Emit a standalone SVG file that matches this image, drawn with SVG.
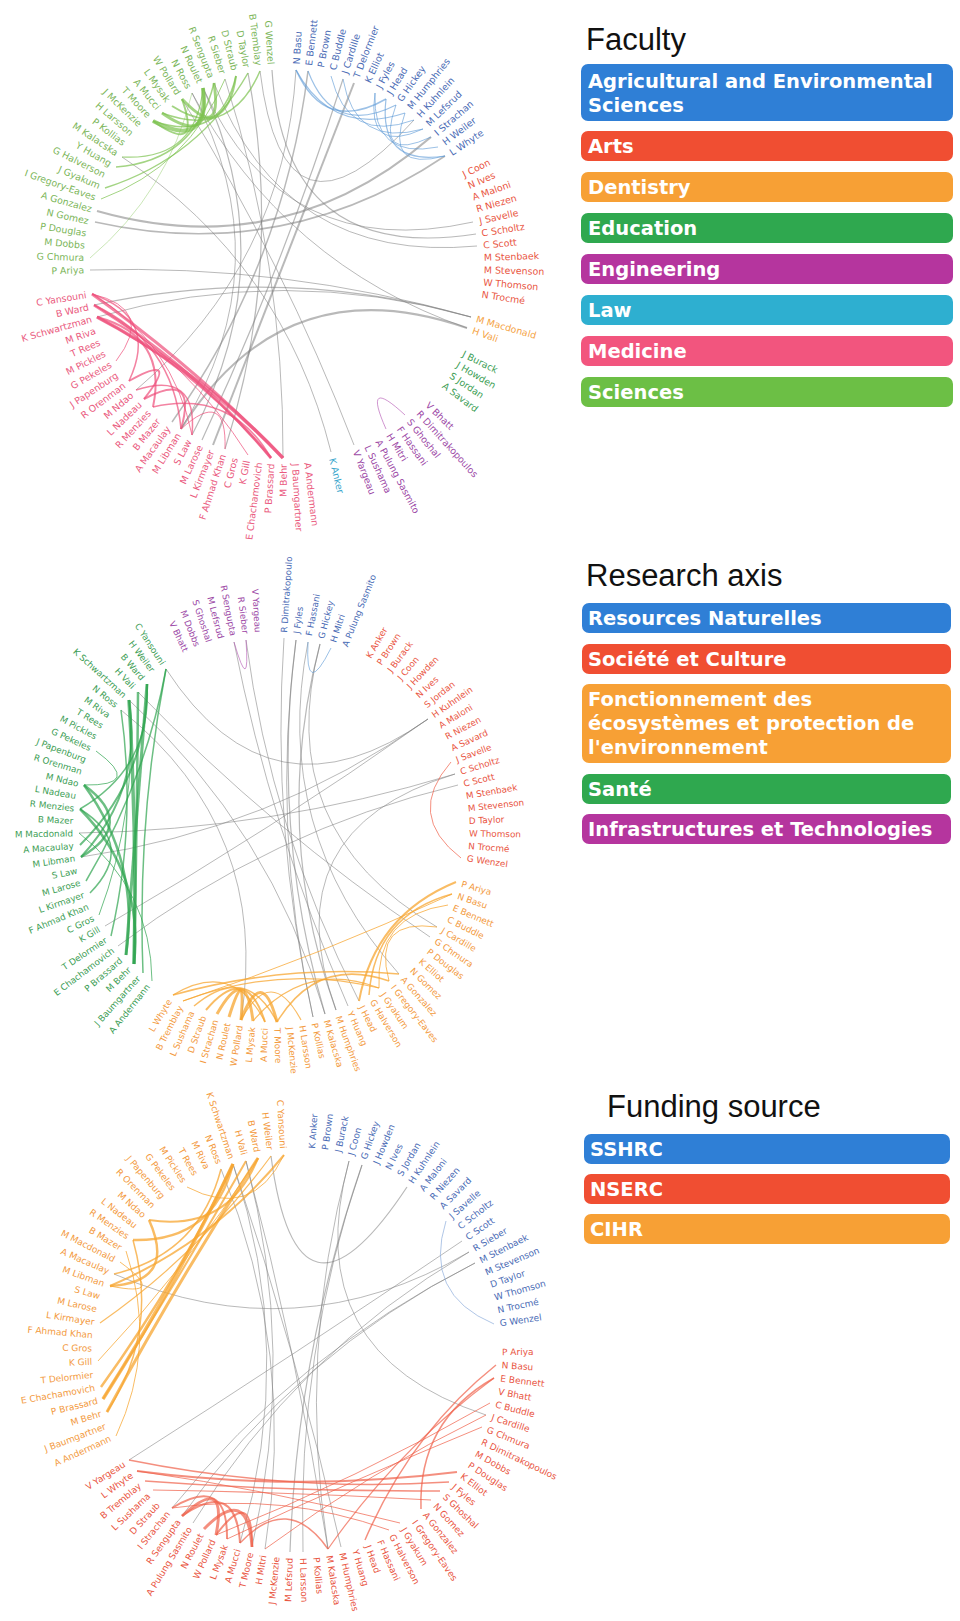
<svg xmlns="http://www.w3.org/2000/svg" width="960" height="1621" viewBox="0 0 960 1621">
<style>
.lb text{font-family:"DejaVu Sans",Verdana,sans-serif;font-size:8.8px;dominant-baseline:central}
#faculty-labels text{font-size:9.4px}
#funding-labels text{font-size:9px}
.l{text-anchor:end}
.ag{fill:#4a6bb5}.ar{fill:#e9553f}.de{fill:#f5a345}.ed{fill:#3d9e55}.en{fill:#9c48a6}.lw{fill:#3aa6cc}.me{fill:#ea5a7e}.sc{fill:#7cb65a}.or{fill:#f39a3e}.gr{fill:#3d9e55}
.ttl{font-family:"Liberation Sans",Arial,sans-serif;font-size:31px;fill:#111}
.lt{font-family:"DejaVu Sans",Verdana,sans-serif;font-weight:bold;font-size:19.5px;fill:#fff}
#connectors path{fill:none}
.gy{stroke:#808080;stroke-opacity:.55}
.kb{stroke:#5a98d6;stroke-opacity:.6}
.ks{stroke:#7cc24e;stroke-opacity:.7}
.km{stroke:#ee4f7a;stroke-opacity:.7}
.kp{stroke:#b050b0;stroke-opacity:.6}
.kg{stroke:#2ea44f;stroke-opacity:.7}
.ko{stroke:#f7a530;stroke-opacity:.75}
.kr{stroke:#f06048;stroke-opacity:.7}
.kl{stroke:#8eaedc;stroke-opacity:.7}
</style>
<rect width="960" height="1621" fill="#fff"/>

<g id="connectors">
<g id="c-faculty">
<g class="gy">
<path d="M97,211 Q284,264 431,137" stroke-width="2.2"/>
<path d="M95,222 Q284,264 445,156" stroke-width="1.6"/>
<path d="M203,88 Q284,264 192,435" stroke-width="1.2"/>
<path d="M192,93 Q284,264 181,429" stroke-width="1"/>
<path d="M182,99 Q284,264 354,445" stroke-width="1"/>
<path d="M354,83 Q284,264 213,445" stroke-width="2"/>
<path d="M343,79 Q284,264 202,440" stroke-width="1.2"/>
<path d="M308,71 Q284,264 172,422" stroke-width="1.5"/>
<path d="M471,317 Q284,264 94,305" stroke-width="1.2"/>
<path d="M471,317 Q284,264 97,317" stroke-width="1"/>
<path d="M467,328 Q284,264 181,429" stroke-width="2"/>
<path d="M467,328 Q284,264 192,93" stroke-width="1"/>
<path d="M473,222 Q284,264 203,88" stroke-width="1"/>
<path d="M477,246 Q284,264 214,83" stroke-width="1"/>
<path d="M272,70 Q284,264 476,234" stroke-width="1.2"/>
<path d="M296,70 Q284,264 136,390" stroke-width="1"/>
<path d="M260,71 Q284,264 414,120" stroke-width="1"/>
<path d="M225,79 Q284,264 283,458" stroke-width="1"/>
<path d="M471,317 Q284,264 90,270" stroke-width="1"/>
<path d="M331,452 Q284,264 122,157" stroke-width="1"/>
<path d="M248,73 Q284,264 225,449" stroke-width="1.2"/>
</g>
<g class="kb">
<path d="M296,70 Q325,134 386,99" stroke-width="1.5"/>
<path d="M308,71 Q333,137 396,105" stroke-width="1.2"/>
<path d="M296,70 Q333,137 405,113" stroke-width="1.2"/>
<path d="M331,76 Q348,144 414,120" stroke-width="1"/>
<path d="M343,79 Q355,148 423,129" stroke-width="1"/>
<path d="M375,93 Q372,160 438,147" stroke-width="1"/>
<path d="M386,99 Q378,166 445,156" stroke-width="1.2"/>
<path d="M396,105 Q375,163 431,137" stroke-width="1"/>
<path d="M405,113 Q384,172 445,156" stroke-width="1"/>
<path d="M375,93 Q366,155 423,129" stroke-width="1"/>
</g>
<g class="ks">
<path d="M153,121 Q209,151 203,88" stroke-width="4"/>
<path d="M182,99 Q223,142 214,83" stroke-width="3"/>
<path d="M172,106 Q227,141 236,76" stroke-width="2"/>
<path d="M162,113 Q231,139 260,71" stroke-width="1.5"/>
<path d="M116,167 Q195,161 214,83" stroke-width="1.5"/>
<path d="M105,188 Q199,158 248,73" stroke-width="1.5"/>
<path d="M153,121 Q220,144 236,76" stroke-width="1.5"/>
<path d="M122,157 Q196,161 203,88" stroke-width="1.2"/>
<path d="M90,258 Q168,192 192,93" stroke-width="1" stroke-opacity=".4"/>
<path d="M101,199 Q189,166 225,79" stroke-width="1"/>
<path d="M153,121 Q202,156 182,99" stroke-width="2"/>
<path d="M162,113 Q212,148 203,88" stroke-width="3"/>
</g>
<g class="km">
<path d="M92,294 Q195,367 283,458" stroke-width="3"/>
<path d="M94,305 Q195,367 271,458" stroke-width="3"/>
<path d="M97,317 Q202,372 283,458" stroke-width="3.5"/>
<path d="M97,317 Q198,370 271,458" stroke-width="2"/>
<path d="M94,305 Q173,342 181,429" stroke-width="1.5"/>
<path d="M92,294 Q159,317 129,381" stroke-width="1.5"/>
<path d="M129,381 Q181,352 144,399" stroke-width="2"/>
<path d="M144,399 Q198,370 181,429" stroke-width="2"/>
<path d="M136,390 Q198,370 192,435" stroke-width="1.5"/>
<path d="M97,317 Q168,336 153,407" stroke-width="2"/>
<path d="M92,294 Q156,309 116,361" stroke-width="1"/>
<path d="M181,429 Q227,387 225,449" stroke-width="1"/>
<path d="M94,305 Q189,362 248,455" stroke-width="1"/>
<path d="M153,407 Q231,389 271,458" stroke-width="1.5"/>
<path d="M92,294 Q173,342 192,435" stroke-width="1"/>
</g>
<path class="kp" d="M405,415 Q362,375 386,429" stroke-width="1"/>
</g>

<g id="c-axis">
<g class="gy">
<path d="M428,719 Q271,830 166,669" stroke-width="1"/>
<path d="M428,719 Q271,830 81,857" stroke-width="1"/>
<path d="M428,719 Q271,830 105,926" stroke-width="1"/>
<path d="M458,785 Q271,830 118,946" stroke-width="1"/>
<path d="M296,640 Q271,830 325,1014" stroke-width="1.2"/>
<path d="M320,644 Q271,830 336,1010" stroke-width="1.2"/>
<path d="M284,638 Q271,830 313,1017" stroke-width="1"/>
<path d="M246,640 Q271,830 359,1001" stroke-width="1"/>
<path d="M234,642 Q271,830 348,1006" stroke-width="1"/>
<path d="M138,692 Q271,830 430,937" stroke-width="1"/>
<path d="M129,700 Q271,830 325,1014" stroke-width="1"/>
<path d="M121,710 Q271,830 241,1020" stroke-width="1"/>
<path d="M79,833 Q271,830 455,774" stroke-width="1"/>
<path d="M455,774 Q271,830 336,1010" stroke-width="1"/>
<path d="M308,642 Q271,830 399,974" stroke-width="1"/>
<path d="M437,927 Q271,830 320,644" stroke-width="1"/>
<path d="M296,640 Q271,830 313,1017" stroke-width="1"/>
</g>
<g class="kg">
<path d="M129,700 Q137,832 134,964" stroke-width="3.5"/>
<path d="M147,684 Q137,820 126,955" stroke-width="3"/>
<path d="M138,692 Q137,828 134,964" stroke-width="2.5"/>
<path d="M166,669 Q137,820 143,973" stroke-width="1.5"/>
<path d="M84,785 Q137,824 81,857" stroke-width="2.5"/>
<path d="M80,809 Q137,845 90,893" stroke-width="1.5"/>
<path d="M84,785 Q140,862 126,955" stroke-width="2.5"/>
<path d="M80,809 Q144,874 134,964" stroke-width="2.5"/>
<path d="M81,857 Q143,790 129,700" stroke-width="2"/>
<path d="M80,845 Q147,779 147,684" stroke-width="2"/>
<path d="M96,751 Q144,786 84,785" stroke-width="1"/>
<path d="M86,881 Q145,782 166,669" stroke-width="1.5"/>
<path d="M121,710 Q137,824 111,936" stroke-width="1.5"/>
<path d="M80,809 Q152,767 147,684" stroke-width="1.5"/>
<path d="M79,833 Q151,890 152,981" stroke-width="1"/>
<path d="M99,915 Q138,811 129,700" stroke-width="1"/>
</g>
<g class="ko">
<path d="M173,995 Q284,964 399,974" stroke-width="1.5"/>
<path d="M183,1001 Q280,964 379,988" stroke-width="1.2"/>
<path d="M241,1020 Q246,962 229,1017" stroke-width="3"/>
<path d="M253,1021 Q246,962 217,1014" stroke-width="3"/>
<path d="M277,1022 Q262,964 241,1020" stroke-width="3"/>
<path d="M265,1022 Q246,962 206,1010" stroke-width="2"/>
<path d="M277,1022 Q246,962 194,1006" stroke-width="1.5"/>
<path d="M301,1020 Q271,964 241,1020" stroke-width="1.2"/>
<path d="M456,882 Q375,915 359,1001" stroke-width="2"/>
<path d="M452,894 Q375,915 369,995" stroke-width="1.5"/>
<path d="M448,905 Q375,915 379,988" stroke-width="1"/>
<path d="M452,894 Q321,955 183,1001" stroke-width="1"/>
<path d="M437,927 Q372,918 389,981" stroke-width="1"/>
<path d="M379,988 Q305,960 253,1021" stroke-width="1.2"/>
<path d="M389,981 Q317,956 277,1022" stroke-width="1.5"/>
<path d="M265,1022 Q233,959 173,995" stroke-width="1.2"/>
</g>
<path class="kr" d="M451,762 Q405,815 461,858" stroke-width="1" stroke-opacity=".45"/>
<path class="kp" d="M234,642 Q250,697 246,640" stroke-width="1"/>
<path class="kb" d="M308,642 Q305,700 331,648" stroke-width="1"/>
</g>

<g id="c-funding">
<g class="gy">
<path d="M362,1165 Q297,1353 290,1552" stroke-width="1.2"/>
<path d="M362,1165 Q297,1353 303,1552" stroke-width="1"/>
<path d="M407,1187 Q297,1353 271,1156" stroke-width="1.2"/>
<path d="M469,1252 Q297,1353 193,1523" stroke-width="1"/>
<path d="M475,1263 Q297,1353 182,1516" stroke-width="1"/>
<path d="M246,1161 Q297,1353 328,1549" stroke-width="1"/>
<path d="M233,1164 Q297,1353 341,1547" stroke-width="1"/>
<path d="M221,1169 Q297,1353 265,1549" stroke-width="1"/>
<path d="M114,1274 Q297,1353 469,1252" stroke-width="1"/>
<path d="M129,1460 Q297,1353 462,1241" stroke-width="1"/>
<path d="M486,1415 Q297,1353 349,1161" stroke-width="1"/>
<path d="M172,1508 Q297,1353 475,1263" stroke-width="1"/>
<path d="M246,1161 Q297,1353 252,1547" stroke-width="1"/>
<path d="M233,1164 Q297,1353 240,1543" stroke-width="1"/>
<path d="M349,1161 Q297,1353 328,1549" stroke-width="1"/>
</g>
<g class="ko">
<path d="M233,1164 Q175,1286 103,1399" stroke-width="3.5"/>
<path d="M258,1158 Q177,1282 107,1412" stroke-width="3"/>
<path d="M246,1161 Q177,1282 103,1399" stroke-width="2"/>
<path d="M149,1220 Q177,1282 110,1286" stroke-width="2.5"/>
<path d="M133,1240 Q213,1242 233,1164" stroke-width="2.5"/>
<path d="M149,1220 Q228,1232 258,1158" stroke-width="2"/>
<path d="M110,1286 Q213,1242 284,1155" stroke-width="2"/>
<path d="M100,1323 Q199,1254 271,1156" stroke-width="1.2"/>
<path d="M101,1387 Q177,1282 233,1164" stroke-width="2.5"/>
<path d="M187,1187 Q252,1221 284,1155" stroke-width="1"/>
<path d="M133,1240 Q159,1332 107,1412" stroke-width="1.5"/>
<path d="M126,1251 Q158,1346 116,1436" stroke-width="1"/>
<path d="M114,1274 Q199,1254 221,1169" stroke-width="1.5"/>
<path d="M120,1262 Q169,1298 110,1286" stroke-width="1"/>
<path d="M98,1361 Q187,1267 258,1158" stroke-width="1"/>
</g>
<g class="kr">
<path d="M129,1460 Q288,1492 449,1482" stroke-width="1.5"/>
<path d="M137,1471 Q297,1492 457,1472" stroke-width="2"/>
<path d="M145,1481 Q292,1492 440,1491" stroke-width="1.5"/>
<path d="M153,1490 Q292,1492 431,1500" stroke-width="1.2"/>
<path d="M216,1535 Q228,1474 182,1516" stroke-width="3"/>
<path d="M252,1547 Q248,1484 204,1529" stroke-width="3"/>
<path d="M240,1543 Q236,1478 182,1516" stroke-width="2"/>
<path d="M227,1539 Q228,1474 172,1508" stroke-width="2"/>
<path d="M252,1547 Q253,1485 216,1535" stroke-width="2"/>
<path d="M496,1365 Q411,1433 365,1540" stroke-width="1.5"/>
<path d="M494,1378 Q418,1421 421,1509" stroke-width="1.5"/>
<path d="M494,1378 Q397,1450 328,1549" stroke-width="1.2"/>
<path d="M490,1403 Q357,1479 216,1535" stroke-width="1"/>
<path d="M486,1415 Q369,1472 265,1549" stroke-width="1"/>
<path d="M482,1427 Q353,1480 227,1539" stroke-width="1"/>
<path d="M389,1530 Q283,1492 172,1508" stroke-width="1"/>
<path d="M400,1523 Q270,1490 137,1471" stroke-width="1"/>
<path d="M328,1549 Q288,1492 240,1543" stroke-width="1.5"/>
</g>
<path class="kl" d="M446,1221 Q423,1294 494,1324" stroke-width="1"/>
</g>
</g>

<g id="faculty-labels" class="lb" transform="translate(284,264)">
<g id="f1" transform="rotate(-86.5)"><text class="ag" x="200">N Basu</text></g>
<g id="f2" transform="rotate(-82.98)"><text class="ag" x="200">E Bennett</text></g>
<g id="f3" transform="rotate(-79.46)"><text class="ag" x="200">P Brown</text></g>
<g id="f4" transform="rotate(-75.94)"><text class="ag" x="200">C Buddle</text></g>
<g id="f5" transform="rotate(-72.42)"><text class="ag" x="200">J Cardille</text></g>
<g id="f6" transform="rotate(-68.9)"><text class="ag" x="200">T Delormier</text></g>
<g id="f7" transform="rotate(-65.38)"><text class="ag" x="200">K Elliot</text></g>
<g id="f8" transform="rotate(-61.86)"><text class="ag" x="200">J Fyles</text></g>
<g id="f9" transform="rotate(-58.34)"><text class="ag" x="200">J Head</text></g>
<g id="f10" transform="rotate(-54.82)"><text class="ag" x="200">G Hickey</text></g>
<g id="f11" transform="rotate(-51.3)"><text class="ag" x="200">M Humphries</text></g>
<g id="f12" transform="rotate(-47.78)"><text class="ag" x="200">H Kuhnlein</text></g>
<g id="f13" transform="rotate(-44.26)"><text class="ag" x="200">M Lefsrud</text></g>
<g id="f14" transform="rotate(-40.74)"><text class="ag" x="200">I Strachan</text></g>
<g id="f15" transform="rotate(-37.22)"><text class="ag" x="200">H Weiler</text></g>
<g id="f16" transform="rotate(-33.7)"><text class="ag" x="200">L Whyte</text></g>
<g id="f17" transform="rotate(-26.54)"><text class="ar" x="200">J Coon</text></g>
<g id="f18" transform="rotate(-23.02)"><text class="ar" x="200">N Ives</text></g>
<g id="f19" transform="rotate(-19.5)"><text class="ar" x="200">A Maloni</text></g>
<g id="f20" transform="rotate(-15.98)"><text class="ar" x="200">R Niezen</text></g>
<g id="f21" transform="rotate(-12.46)"><text class="ar" x="200">J Savelle</text></g>
<g id="f22" transform="rotate(-8.94)"><text class="ar" x="200">C Scholtz</text></g>
<g id="f23" transform="rotate(-5.42)"><text class="ar" x="200">C Scott</text></g>
<g id="f24" transform="rotate(-1.9)"><text class="ar" x="200">M Stenbaek</text></g>
<g id="f25" transform="rotate(1.62)"><text class="ar" x="200">M Stevenson</text></g>
<g id="f26" transform="rotate(5.14)"><text class="ar" x="200">W Thomson</text></g>
<g id="f27" transform="rotate(8.66)"><text class="ar" x="200">N Trocmé</text></g>
<g id="f28" transform="rotate(15.82)"><text class="de" x="200">M Macdonald</text></g>
<g id="f29" transform="rotate(19.34)"><text class="de" x="200">H Vali</text></g>
<g id="f30" transform="rotate(26.5)"><text class="ed" x="200">J Burack</text></g>
<g id="f31" transform="rotate(30.02)"><text class="ed" x="200">J Howden</text></g>
<g id="f32" transform="rotate(33.54)"><text class="ed" x="200">S Jordan</text></g>
<g id="f33" transform="rotate(37.06)"><text class="ed" x="200">A Savard</text></g>
<g id="f34" transform="rotate(44.22)"><text class="en" x="200">V Bhatt</text></g>
<g id="f35" transform="rotate(47.74)"><text class="en" x="200">R Dimitrakopoulos</text></g>
<g id="f36" transform="rotate(51.26)"><text class="en" x="200">S Ghoshal</text></g>
<g id="f37" transform="rotate(54.78)"><text class="en" x="200">F Hassani</text></g>
<g id="f38" transform="rotate(58.3)"><text class="en" x="200">H Mitri</text></g>
<g id="f39" transform="rotate(61.82)"><text class="en" x="200">A Pulung Sasmito</text></g>
<g id="f40" transform="rotate(65.34)"><text class="en" x="200">L Sushama</text></g>
<g id="f41" transform="rotate(68.86)"><text class="en" x="200">V Yargeau</text></g>
<g id="f42" transform="rotate(76.02)"><text class="lw" x="200">K Anker</text></g>
<g id="f43" transform="rotate(83.18)"><text class="me" x="200">A Andermann</text></g>
<g id="f44" transform="rotate(86.7)"><text class="me" x="200">J Baumgartner</text></g>
<g id="f45" transform="rotate(-89.78)"><text class="me l" x="-200">M Behr</text></g>
<g id="f46" transform="rotate(-86.26)"><text class="me l" x="-200">P Brassard</text></g>
<g id="f47" transform="rotate(-82.74)"><text class="me l" x="-200">E Chachamovich</text></g>
<g id="f48" transform="rotate(-79.22)"><text class="me l" x="-200">K Gill</text></g>
<g id="f49" transform="rotate(-75.7)"><text class="me l" x="-200">C Gros</text></g>
<g id="f50" transform="rotate(-72.18)"><text class="me l" x="-200">F Ahmad Khan</text></g>
<g id="f51" transform="rotate(-68.66)"><text class="me l" x="-200">L Kirmayer</text></g>
<g id="f52" transform="rotate(-65.14)"><text class="me l" x="-200">M Larose</text></g>
<g id="f53" transform="rotate(-61.62)"><text class="me l" x="-200">S Law</text></g>
<g id="f54" transform="rotate(-58.1)"><text class="me l" x="-200">M Libman</text></g>
<g id="f55" transform="rotate(-54.58)"><text class="me l" x="-200">A Macaulay</text></g>
<g id="f56" transform="rotate(-51.06)"><text class="me l" x="-200">B Mazer</text></g>
<g id="f57" transform="rotate(-47.54)"><text class="me l" x="-200">R Menzies</text></g>
<g id="f58" transform="rotate(-44.02)"><text class="me l" x="-200">L Nadeau</text></g>
<g id="f59" transform="rotate(-40.5)"><text class="me l" x="-200">M Ndao</text></g>
<g id="f60" transform="rotate(-36.98)"><text class="me l" x="-200">R Orenman</text></g>
<g id="f61" transform="rotate(-33.46)"><text class="me l" x="-200">J Papenburg</text></g>
<g id="f62" transform="rotate(-29.94)"><text class="me l" x="-200">G Pekeles</text></g>
<g id="f63" transform="rotate(-26.42)"><text class="me l" x="-200">M Pickles</text></g>
<g id="f64" transform="rotate(-22.9)"><text class="me l" x="-200">T Rees</text></g>
<g id="f65" transform="rotate(-19.38)"><text class="me l" x="-200">M Riva</text></g>
<g id="f66" transform="rotate(-15.86)"><text class="me l" x="-200">K Schwartzman</text></g>
<g id="f67" transform="rotate(-12.34)"><text class="me l" x="-200">B Ward</text></g>
<g id="f68" transform="rotate(-8.82)"><text class="me l" x="-200">C Yansouni</text></g>
<g id="f69" transform="rotate(-1.66)"><text class="sc l" x="-200">P Ariya</text></g>
<g id="f70" transform="rotate(1.86)"><text class="sc l" x="-200">G Chmura</text></g>
<g id="f71" transform="rotate(5.38)"><text class="sc l" x="-200">M Dobbs</text></g>
<g id="f72" transform="rotate(8.9)"><text class="sc l" x="-200">P Douglas</text></g>
<g id="f73" transform="rotate(12.42)"><text class="sc l" x="-200">N Gomez</text></g>
<g id="f74" transform="rotate(15.94)"><text class="sc l" x="-200">A Gonzalez</text></g>
<g id="f75" transform="rotate(19.46)"><text class="sc l" x="-200">I Gregory-Eaves</text></g>
<g id="f76" transform="rotate(22.98)"><text class="sc l" x="-200">J Gyakum</text></g>
<g id="f77" transform="rotate(26.5)"><text class="sc l" x="-200">G Halverson</text></g>
<g id="f78" transform="rotate(30.02)"><text class="sc l" x="-200">Y Huang</text></g>
<g id="f79" transform="rotate(33.54)"><text class="sc l" x="-200">M Kalacska</text></g>
<g id="f80" transform="rotate(37.06)"><text class="sc l" x="-200">P Kollias</text></g>
<g id="f81" transform="rotate(40.58)"><text class="sc l" x="-200">H Larsson</text></g>
<g id="f82" transform="rotate(44.1)"><text class="sc l" x="-200">J McKenzie</text></g>
<g id="f83" transform="rotate(47.62)"><text class="sc l" x="-200">T Moore</text></g>
<g id="f84" transform="rotate(51.14)"><text class="sc l" x="-200">A Mucci</text></g>
<g id="f85" transform="rotate(54.66)"><text class="sc l" x="-200">L Mysak</text></g>
<g id="f86" transform="rotate(58.18)"><text class="sc l" x="-200">W Pollard</text></g>
<g id="f87" transform="rotate(61.7)"><text class="sc l" x="-200">N Ross</text></g>
<g id="f88" transform="rotate(65.22)"><text class="sc l" x="-200">N Roulet</text></g>
<g id="f89" transform="rotate(68.74)"><text class="sc l" x="-200">R Sengupta</text></g>
<g id="f90" transform="rotate(72.26)"><text class="sc l" x="-200">R Sieber</text></g>
<g id="f91" transform="rotate(75.78)"><text class="sc l" x="-200">D Straub</text></g>
<g id="f92" transform="rotate(79.3)"><text class="sc l" x="-200">D Taylor</text></g>
<g id="f93" transform="rotate(82.82)"><text class="sc l" x="-200">B Tremblay</text></g>
<g id="f94" transform="rotate(86.34)"><text class="sc l" x="-200">G Wenzel</text></g>
</g>

<g id="axis-labels" class="lb" transform="translate(271,830)">
<g id="r1" transform="rotate(-86.2)"><text class="ag" x="198">R Dimitrakopoulo</text></g>
<g id="r2" transform="rotate(-82.58)"><text class="ag" x="198">J Fyles</text></g>
<g id="r3" transform="rotate(-78.96)"><text class="ag" x="198">F Hassani</text></g>
<g id="r4" transform="rotate(-75.34)"><text class="ag" x="198">G Hickey</text></g>
<g id="r5" transform="rotate(-71.72)"><text class="ag" x="198">H Mitri</text></g>
<g id="r6" transform="rotate(-68.1)"><text class="ag" x="198">A Pulung Sasmito</text></g>
<g id="r7" transform="rotate(-60.54)"><text class="ar" x="198">K Anker</text></g>
<g id="r8" transform="rotate(-56.92)"><text class="ar" x="198">P Brown</text></g>
<g id="r9" transform="rotate(-53.3)"><text class="ar" x="198">J Burack</text></g>
<g id="r10" transform="rotate(-49.68)"><text class="ar" x="198">J Coon</text></g>
<g id="r11" transform="rotate(-46.06)"><text class="ar" x="198">J Howden</text></g>
<g id="r12" transform="rotate(-42.44)"><text class="ar" x="198">N Ives</text></g>
<g id="r13" transform="rotate(-38.82)"><text class="ar" x="198">S Jordan</text></g>
<g id="r14" transform="rotate(-35.2)"><text class="ar" x="198">H Kuhnlein</text></g>
<g id="r15" transform="rotate(-31.58)"><text class="ar" x="198">A Maloni</text></g>
<g id="r16" transform="rotate(-27.96)"><text class="ar" x="198">R Niezen</text></g>
<g id="r17" transform="rotate(-24.34)"><text class="ar" x="198">A Savard</text></g>
<g id="r18" transform="rotate(-20.72)"><text class="ar" x="198">J Savelle</text></g>
<g id="r19" transform="rotate(-17.1)"><text class="ar" x="198">C Scholtz</text></g>
<g id="r20" transform="rotate(-13.48)"><text class="ar" x="198">C Scott</text></g>
<g id="r21" transform="rotate(-9.86)"><text class="ar" x="198">M Stenbaek</text></g>
<g id="r22" transform="rotate(-6.24)"><text class="ar" x="198">M Stevenson</text></g>
<g id="r23" transform="rotate(-2.62)"><text class="ar" x="198">D Taylor</text></g>
<g id="r24" transform="rotate(1)"><text class="ar" x="198">W Thomson</text></g>
<g id="r25" transform="rotate(4.62)"><text class="ar" x="198">N Trocmé</text></g>
<g id="r26" transform="rotate(8.24)"><text class="ar" x="198">G Wenzel</text></g>
<g id="r27" transform="rotate(15.8)"><text class="or" x="198">P Ariya</text></g>
<g id="r28" transform="rotate(19.42)"><text class="or" x="198">N Basu</text></g>
<g id="r29" transform="rotate(23.04)"><text class="or" x="198">E Bennett</text></g>
<g id="r30" transform="rotate(26.66)"><text class="or" x="198">C Buddle</text></g>
<g id="r31" transform="rotate(30.28)"><text class="or" x="198">J Cardille</text></g>
<g id="r32" transform="rotate(33.9)"><text class="or" x="198">G Chmura</text></g>
<g id="r33" transform="rotate(37.52)"><text class="or" x="198">P Douglas</text></g>
<g id="r34" transform="rotate(41.14)"><text class="or" x="198">K Elliot</text></g>
<g id="r35" transform="rotate(44.76)"><text class="or" x="198">N Gomez</text></g>
<g id="r36" transform="rotate(48.38)"><text class="or" x="198">A Gonzalez</text></g>
<g id="r37" transform="rotate(52)"><text class="or" x="198">I Gregory-Eaves</text></g>
<g id="r38" transform="rotate(55.62)"><text class="or" x="198">J Gyakum</text></g>
<g id="r39" transform="rotate(59.24)"><text class="or" x="198">G Halverson</text></g>
<g id="r40" transform="rotate(62.86)"><text class="or" x="198">J Head</text></g>
<g id="r41" transform="rotate(66.48)"><text class="or" x="198">Y Huang</text></g>
<g id="r42" transform="rotate(70.1)"><text class="or" x="198">M Humphries</text></g>
<g id="r43" transform="rotate(73.72)"><text class="or" x="198">M Kalacska</text></g>
<g id="r44" transform="rotate(77.34)"><text class="or" x="198">P Kollias</text></g>
<g id="r45" transform="rotate(80.96)"><text class="or" x="198">H Larsson</text></g>
<g id="r46" transform="rotate(84.58)"><text class="or" x="198">J McKenzie</text></g>
<g id="r47" transform="rotate(88.2)"><text class="or" x="198">T Moore</text></g>
<g id="r48" transform="rotate(-88.18)"><text class="or l" x="-198">A Mucci</text></g>
<g id="r49" transform="rotate(-84.56)"><text class="or l" x="-198">L Mysak</text></g>
<g id="r50" transform="rotate(-80.94)"><text class="or l" x="-198">W Pollard</text></g>
<g id="r51" transform="rotate(-77.32)"><text class="or l" x="-198">N Roulet</text></g>
<g id="r52" transform="rotate(-73.7)"><text class="or l" x="-198">I Strachan</text></g>
<g id="r53" transform="rotate(-70.08)"><text class="or l" x="-198">D Straub</text></g>
<g id="r54" transform="rotate(-66.46)"><text class="or l" x="-198">L Sushama</text></g>
<g id="r55" transform="rotate(-62.84)"><text class="or l" x="-198">B Tremblay</text></g>
<g id="r56" transform="rotate(-59.22)"><text class="or l" x="-198">L Whyte</text></g>
<g id="r57" transform="rotate(-51.66)"><text class="gr l" x="-198">A Andermann</text></g>
<g id="r58" transform="rotate(-48.04)"><text class="gr l" x="-198">J Baumgartner</text></g>
<g id="r59" transform="rotate(-44.42)"><text class="gr l" x="-198">M Behr</text></g>
<g id="r60" transform="rotate(-40.8)"><text class="gr l" x="-198">P Brassard</text></g>
<g id="r61" transform="rotate(-37.18)"><text class="gr l" x="-198">E Chachamovich</text></g>
<g id="r62" transform="rotate(-33.56)"><text class="gr l" x="-198">T Delormier</text></g>
<g id="r63" transform="rotate(-29.94)"><text class="gr l" x="-198">K Gill</text></g>
<g id="r64" transform="rotate(-26.32)"><text class="gr l" x="-198">C Gros</text></g>
<g id="r65" transform="rotate(-22.7)"><text class="gr l" x="-198">F Ahmad Khan</text></g>
<g id="r66" transform="rotate(-19.08)"><text class="gr l" x="-198">L Kirmayer</text></g>
<g id="r67" transform="rotate(-15.46)"><text class="gr l" x="-198">M Larose</text></g>
<g id="r68" transform="rotate(-11.84)"><text class="gr l" x="-198">S Law</text></g>
<g id="r69" transform="rotate(-8.22)"><text class="gr l" x="-198">M Libman</text></g>
<g id="r70" transform="rotate(-4.6)"><text class="gr l" x="-198">A Macaulay</text></g>
<g id="r71" transform="rotate(-0.98)"><text class="gr l" x="-198">M Macdonald</text></g>
<g id="r72" transform="rotate(2.64)"><text class="gr l" x="-198">B Mazer</text></g>
<g id="r73" transform="rotate(6.26)"><text class="gr l" x="-198">R Menzies</text></g>
<g id="r74" transform="rotate(9.88)"><text class="gr l" x="-198">L Nadeau</text></g>
<g id="r75" transform="rotate(13.5)"><text class="gr l" x="-198">M Ndao</text></g>
<g id="r76" transform="rotate(17.12)"><text class="gr l" x="-198">R Orenman</text></g>
<g id="r77" transform="rotate(20.74)"><text class="gr l" x="-198">J Papenburg</text></g>
<g id="r78" transform="rotate(24.36)"><text class="gr l" x="-198">G Pekeles</text></g>
<g id="r79" transform="rotate(27.98)"><text class="gr l" x="-198">M Pickles</text></g>
<g id="r80" transform="rotate(31.6)"><text class="gr l" x="-198">T Rees</text></g>
<g id="r81" transform="rotate(35.22)"><text class="gr l" x="-198">M Riva</text></g>
<g id="r82" transform="rotate(38.84)"><text class="gr l" x="-198">N Ross</text></g>
<g id="r83" transform="rotate(42.46)"><text class="gr l" x="-198">K Schwartzman</text></g>
<g id="r84" transform="rotate(46.08)"><text class="gr l" x="-198">H Vali</text></g>
<g id="r85" transform="rotate(49.7)"><text class="gr l" x="-198">B Ward</text></g>
<g id="r86" transform="rotate(53.32)"><text class="gr l" x="-198">H Weiler</text></g>
<g id="r87" transform="rotate(56.94)"><text class="gr l" x="-198">C Yansouni</text></g>
<g id="r88" transform="rotate(64.5)"><text class="en l" x="-198">V Bhatt</text></g>
<g id="r89" transform="rotate(68.12)"><text class="en l" x="-198">M Dobbs</text></g>
<g id="r90" transform="rotate(71.74)"><text class="en l" x="-198">S Ghoshal</text></g>
<g id="r91" transform="rotate(75.36)"><text class="en l" x="-198">M Lefsrud</text></g>
<g id="r92" transform="rotate(78.98)"><text class="en l" x="-198">R Sengupta</text></g>
<g id="r93" transform="rotate(82.6)"><text class="en l" x="-198">R Sieber</text></g>
<g id="r94" transform="rotate(86.22)"><text class="en l" x="-198">V Yargeau</text></g>
</g>

<g id="funding-labels" class="lb" transform="translate(297,1353)">
<g id="s1" transform="rotate(-85.8)"><text class="ag" x="205">K Anker</text></g>
<g id="s2" transform="rotate(-82.11)"><text class="ag" x="205">P Brown</text></g>
<g id="s3" transform="rotate(-78.42)"><text class="ag" x="205">J Burack</text></g>
<g id="s4" transform="rotate(-74.73)"><text class="ag" x="205">J Coon</text></g>
<g id="s5" transform="rotate(-71.04)"><text class="ag" x="205">G Hickey</text></g>
<g id="s6" transform="rotate(-67.35)"><text class="ag" x="205">J Howden</text></g>
<g id="s7" transform="rotate(-63.66)"><text class="ag" x="205">N Ives</text></g>
<g id="s8" transform="rotate(-59.97)"><text class="ag" x="205">S Jordan</text></g>
<g id="s9" transform="rotate(-56.28)"><text class="ag" x="205">H Kuhnlein</text></g>
<g id="s10" transform="rotate(-52.59)"><text class="ag" x="205">A Maloni</text></g>
<g id="s11" transform="rotate(-48.9)"><text class="ag" x="205">R Niezen</text></g>
<g id="s12" transform="rotate(-45.21)"><text class="ag" x="205">A Savard</text></g>
<g id="s13" transform="rotate(-41.52)"><text class="ag" x="205">J Savelle</text></g>
<g id="s14" transform="rotate(-37.83)"><text class="ag" x="205">C Scholtz</text></g>
<g id="s15" transform="rotate(-34.14)"><text class="ag" x="205">C Scott</text></g>
<g id="s16" transform="rotate(-30.45)"><text class="ag" x="205">R Sieber</text></g>
<g id="s17" transform="rotate(-26.76)"><text class="ag" x="205">M Stenbaek</text></g>
<g id="s18" transform="rotate(-23.07)"><text class="ag" x="205">M Stevenson</text></g>
<g id="s19" transform="rotate(-19.38)"><text class="ag" x="205">D Taylor</text></g>
<g id="s20" transform="rotate(-15.69)"><text class="ag" x="205">W Thomson</text></g>
<g id="s21" transform="rotate(-12)"><text class="ag" x="205">N Trocmé</text></g>
<g id="s22" transform="rotate(-8.31)"><text class="ag" x="205">G Wenzel</text></g>
<g id="s23" transform="rotate(-0.24)"><text class="ar" x="205">P Ariya</text></g>
<g id="s24" transform="rotate(3.45)"><text class="ar" x="205">N Basu</text></g>
<g id="s25" transform="rotate(7.14)"><text class="ar" x="205">E Bennett</text></g>
<g id="s26" transform="rotate(10.83)"><text class="ar" x="205">V Bhatt</text></g>
<g id="s27" transform="rotate(14.52)"><text class="ar" x="205">C Buddle</text></g>
<g id="s28" transform="rotate(18.21)"><text class="ar" x="205">J Cardille</text></g>
<g id="s29" transform="rotate(21.9)"><text class="ar" x="205">G Chmura</text></g>
<g id="s30" transform="rotate(25.59)"><text class="ar" x="205">R Dimitrakopoulos</text></g>
<g id="s31" transform="rotate(29.28)"><text class="ar" x="205">M Dobbs</text></g>
<g id="s32" transform="rotate(32.97)"><text class="ar" x="205">P Douglas</text></g>
<g id="s33" transform="rotate(36.66)"><text class="ar" x="205">K Elliot</text></g>
<g id="s34" transform="rotate(40.35)"><text class="ar" x="205">J Fyles</text></g>
<g id="s35" transform="rotate(44.04)"><text class="ar" x="205">S Ghoshal</text></g>
<g id="s36" transform="rotate(47.73)"><text class="ar" x="205">N Gomez</text></g>
<g id="s37" transform="rotate(51.42)"><text class="ar" x="205">A Gonzalez</text></g>
<g id="s38" transform="rotate(55.11)"><text class="ar" x="205">I Gregory-Eaves</text></g>
<g id="s39" transform="rotate(58.8)"><text class="ar" x="205">J Gyakum</text></g>
<g id="s40" transform="rotate(62.49)"><text class="ar" x="205">G Halverson</text></g>
<g id="s41" transform="rotate(66.18)"><text class="ar" x="205">F Hassani</text></g>
<g id="s42" transform="rotate(69.87)"><text class="ar" x="205">J Head</text></g>
<g id="s43" transform="rotate(73.56)"><text class="ar" x="205">Y Huang</text></g>
<g id="s44" transform="rotate(77.25)"><text class="ar" x="205">M Humphries</text></g>
<g id="s45" transform="rotate(80.94)"><text class="ar" x="205">M Kalacska</text></g>
<g id="s46" transform="rotate(84.63)"><text class="ar" x="205">P Kollias</text></g>
<g id="s47" transform="rotate(88.32)"><text class="ar" x="205">H Larsson</text></g>
<g id="s48" transform="rotate(-87.99)"><text class="ar l" x="-205">M Lefsrud</text></g>
<g id="s49" transform="rotate(-84.3)"><text class="ar l" x="-205">J McKenzie</text></g>
<g id="s50" transform="rotate(-80.61)"><text class="ar l" x="-205">H Mitri</text></g>
<g id="s51" transform="rotate(-76.92)"><text class="ar l" x="-205">T Moore</text></g>
<g id="s52" transform="rotate(-73.23)"><text class="ar l" x="-205">A Mucci</text></g>
<g id="s53" transform="rotate(-69.54)"><text class="ar l" x="-205">L Mysak</text></g>
<g id="s54" transform="rotate(-65.85)"><text class="ar l" x="-205">W Pollard</text></g>
<g id="s55" transform="rotate(-62.16)"><text class="ar l" x="-205">N Roulet</text></g>
<g id="s56" transform="rotate(-58.47)"><text class="ar l" x="-205">A Pulung Sasmito</text></g>
<g id="s57" transform="rotate(-54.78)"><text class="ar l" x="-205">R Sengupta</text></g>
<g id="s58" transform="rotate(-51.09)"><text class="ar l" x="-205">I Strachan</text></g>
<g id="s59" transform="rotate(-47.4)"><text class="ar l" x="-205">D Straub</text></g>
<g id="s60" transform="rotate(-43.71)"><text class="ar l" x="-205">L Sushama</text></g>
<g id="s61" transform="rotate(-40.02)"><text class="ar l" x="-205">B Tremblay</text></g>
<g id="s62" transform="rotate(-36.33)"><text class="ar l" x="-205">L Whyte</text></g>
<g id="s63" transform="rotate(-32.64)"><text class="ar l" x="-205">V Yargeau</text></g>
<g id="s64" transform="rotate(-24.57)"><text class="or l" x="-205">A Andermann</text></g>
<g id="s65" transform="rotate(-20.88)"><text class="or l" x="-205">J Baumgartner</text></g>
<g id="s66" transform="rotate(-17.19)"><text class="or l" x="-205">M Behr</text></g>
<g id="s67" transform="rotate(-13.5)"><text class="or l" x="-205">P Brassard</text></g>
<g id="s68" transform="rotate(-9.81)"><text class="or l" x="-205">E Chachamovich</text></g>
<g id="s69" transform="rotate(-6.12)"><text class="or l" x="-205">T Delormier</text></g>
<g id="s70" transform="rotate(-2.43)"><text class="or l" x="-205">K Gill</text></g>
<g id="s71" transform="rotate(1.26)"><text class="or l" x="-205">C Gros</text></g>
<g id="s72" transform="rotate(4.95)"><text class="or l" x="-205">F Ahmad Khan</text></g>
<g id="s73" transform="rotate(8.64)"><text class="or l" x="-205">L Kirmayer</text></g>
<g id="s74" transform="rotate(12.33)"><text class="or l" x="-205">M Larose</text></g>
<g id="s75" transform="rotate(16.02)"><text class="or l" x="-205">S Law</text></g>
<g id="s76" transform="rotate(19.71)"><text class="or l" x="-205">M Libman</text></g>
<g id="s77" transform="rotate(23.4)"><text class="or l" x="-205">A Macaulay</text></g>
<g id="s78" transform="rotate(27.09)"><text class="or l" x="-205">M Macdonald</text></g>
<g id="s79" transform="rotate(30.78)"><text class="or l" x="-205">B Mazer</text></g>
<g id="s80" transform="rotate(34.47)"><text class="or l" x="-205">R Menzies</text></g>
<g id="s81" transform="rotate(38.16)"><text class="or l" x="-205">L Nadeau</text></g>
<g id="s82" transform="rotate(41.85)"><text class="or l" x="-205">M Ndao</text></g>
<g id="s83" transform="rotate(45.54)"><text class="or l" x="-205">R Orenman</text></g>
<g id="s84" transform="rotate(49.23)"><text class="or l" x="-205">J Papenburg</text></g>
<g id="s85" transform="rotate(52.92)"><text class="or l" x="-205">G Pekeles</text></g>
<g id="s86" transform="rotate(56.61)"><text class="or l" x="-205">M Pickles</text></g>
<g id="s87" transform="rotate(60.3)"><text class="or l" x="-205">T Rees</text></g>
<g id="s88" transform="rotate(63.99)"><text class="or l" x="-205">M Riva</text></g>
<g id="s89" transform="rotate(67.68)"><text class="or l" x="-205">N Ross</text></g>
<g id="s90" transform="rotate(71.37)"><text class="or l" x="-205">K Schwartzman</text></g>
<g id="s91" transform="rotate(75.06)"><text class="or l" x="-205">H Vali</text></g>
<g id="s92" transform="rotate(78.75)"><text class="or l" x="-205">B Ward</text></g>
<g id="s93" transform="rotate(82.44)"><text class="or l" x="-205">H Weiler</text></g>
<g id="s94" transform="rotate(86.13)"><text class="or l" x="-205">C Yansouni</text></g>
</g>

<g id="legend-faculty">
<text class="ttl" x="586" y="50">Faculty</text>
<g id="lg-ag"><rect x="581" y="64" width="372" height="57" rx="7" fill="#2f7fd6"/><text class="lt" x="588" y="88">Agricultural and Environmental</text><text class="lt" x="588" y="112">Sciences</text></g>
<g id="lg-arts"><rect x="581" y="131" width="372" height="30" rx="7" fill="#f04e32"/><text class="lt" x="588" y="153">Arts</text></g>
<g id="lg-dent"><rect x="581" y="172" width="372" height="30" rx="7" fill="#f7a035"/><text class="lt" x="588" y="194">Dentistry</text></g>
<g id="lg-edu"><rect x="581" y="213" width="372" height="30" rx="7" fill="#2fa84f"/><text class="lt" x="588" y="235">Education</text></g>
<g id="lg-eng"><rect x="581" y="254" width="372" height="30" rx="7" fill="#b5359e"/><text class="lt" x="588" y="276">Engineering</text></g>
<g id="lg-law"><rect x="581" y="295" width="372" height="30" rx="7" fill="#2eafd0"/><text class="lt" x="588" y="317">Law</text></g>
<g id="lg-med"><rect x="581" y="336" width="372" height="30" rx="7" fill="#f2557e"/><text class="lt" x="588" y="358">Medicine</text></g>
<g id="lg-sci"><rect x="581" y="377" width="372" height="30" rx="7" fill="#6cbf45"/><text class="lt" x="588" y="399">Sciences</text></g>
</g>

<g id="legend-axis">
<text class="ttl" x="586" y="586">Research axis</text>
<g id="lg-rn"><rect x="582" y="603" width="369" height="30" rx="7" fill="#2f7fd6"/><text class="lt" x="588" y="625">Resources Naturelles</text></g>
<g id="lg-sc"><rect x="582" y="644" width="369" height="30" rx="7" fill="#f04e32"/><text class="lt" x="588" y="666">Société et Culture</text></g>
<g id="lg-fe"><rect x="582" y="684" width="369" height="79" rx="7" fill="#f7a035"/><text class="lt" x="588" y="706">Fonctionnement des</text><text class="lt" x="588" y="730">écosystèmes et protection de</text><text class="lt" x="588" y="754">l'environnement</text></g>
<g id="lg-sa"><rect x="582" y="774" width="369" height="30" rx="7" fill="#2fa84f"/><text class="lt" x="588" y="796">Santé</text></g>
<g id="lg-it"><rect x="582" y="814" width="369" height="30" rx="7" fill="#b5359e"/><text class="lt" x="588" y="836">Infrastructures et Technologies</text></g>
</g>

<g id="legend-funding">
<text class="ttl" x="607" y="1117">Funding source</text>
<g id="lg-sshrc"><rect x="584" y="1134" width="366" height="30" rx="7" fill="#2f7fd6"/><text class="lt" x="590" y="1156">SSHRC</text></g>
<g id="lg-nserc"><rect x="584" y="1174" width="366" height="30" rx="7" fill="#f04e32"/><text class="lt" x="590" y="1196">NSERC</text></g>
<g id="lg-cihr"><rect x="584" y="1214" width="366" height="30" rx="7" fill="#f7a035"/><text class="lt" x="590" y="1236">CIHR</text></g>
</g>
</svg>
